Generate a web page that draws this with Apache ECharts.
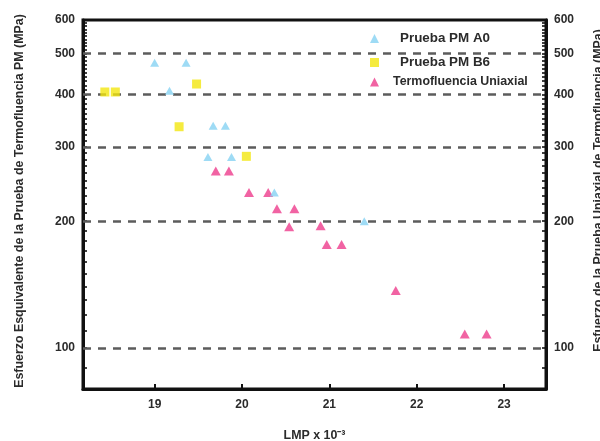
<!DOCTYPE html>
<html>
<head>
<meta charset="utf-8">
<script src="https://cdn.jsdelivr.net/npm/echarts@6/dist/echarts.min.js"></script>
<style>
  html, body { margin: 0; padding: 0; background: #ffffff; }
  #chart { width: 600px; height: 441px; }
</style>
</head>
<body>
<div id="chart"></div>
<script>
// LMP (x 10^-3) vs stress (MPa) for the three creep test series
const pmA0 = [
  [19.00, 475], [19.36, 475], [19.17, 408], [19.67, 337], [19.81, 337],
  [19.61, 284], [19.88, 284], [20.37, 234], [21.40, 200]
];
const pmB6 = [
  [18.43, 405], [18.55, 405], [19.48, 423], [19.28, 335], [20.05, 285]
];
const uniaxial = [
  [19.70, 263], [19.85, 263], [20.08, 234], [20.30, 234], [20.40, 214],
  [20.60, 214], [20.54, 194], [20.90, 195], [20.97, 176], [21.14, 176],
  [21.76, 137], [22.55, 108], [22.80, 108]
];

const seriesNames = ['Prueba PM A0', 'Prueba PM B6', 'Termofluencia Uniaxial'];
const xTicks = [19, 20, 21, 22, 23];
const yLabels = [100, 200, 300, 400, 500, 600];
const gridValues = [100, 200, 300, 400, 500];

// minor ticks on the stress axes: every 10 MPa across the axis range
const yMinorTicks = [];
for (let v = 80; v <= 600; v += 10) yMinorTicks.push(v);

const FONT = '"Liberation Sans", Arial, sans-serif';
const INK = '#2b2b2b';

const chart = echarts.init(document.getElementById('chart'), null, { renderer: 'canvas' });

function stressAxis(position, name, nameGap, namePad) {
  return {
    type: 'log',
    logBase: 10,
    position: position,
    min: 80,
    max: 600,
    name: name,
    nameLocation: 'middle',
    nameRotate: 90,
    nameGap: nameGap,
    nameTextStyle: {
      fontFamily: FONT, fontSize: 12.4, fontWeight: 'bold', color: INK,
      padding: namePad
    },
    axisLine: { show: true, lineStyle: { color: '#111', width: 3 } },
    axisTick: {
      show: true, inside: true, length: 4,
      customValues: yMinorTicks,
      lineStyle: { color: '#111', width: 1.6 }
    },
    axisLabel: {
      show: true, margin: 8,
      customValues: yLabels,
      fontFamily: FONT, fontSize: 12, fontWeight: 'bold', color: INK
    },
    splitLine: { show: false },
    minorTick: { show: false },
    minorSplitLine: { show: false }
  };
}

function legendFor(name, left, top, pad, size) {
  return {
    data: [name],
    left: left,
    top: top,
    orient: 'vertical',
    padding: 0,
    itemWidth: 9,
    itemHeight: 9,
    selectedMode: false,
    textStyle: {
      fontFamily: FONT, fontSize: size, fontWeight: 'bold', color: INK,
      padding: [0, 0, 0, pad]
    }
  };
}

const option = {
  animation: false,
  backgroundColor: '#ffffff',
  grid: {
    left: 83, right: 54, top: 20, bottom: 52,
    show: true, borderColor: '#111', borderWidth: 3,
    containLabel: false,
    outerBoundsMode: 'none'
  },
  legend: [
    legendFor(seriesNames[0], 370, 32, 16, 13.4),
    legendFor(seriesNames[1], 370, 56, 16, 13.4),
    legendFor(seriesNames[2], 370, 76, 9, 12.4)
  ],
  xAxis: {
    type: 'value',
    min: 18.18,
    max: 23.48,
    name: 'LMP x 10\u207B\u00B3',
    nameLocation: 'middle',
    nameGap: 41,
    nameTextStyle: { fontFamily: FONT, fontSize: 12.4, fontWeight: 'bold', color: INK },
    axisLine: { show: true, lineStyle: { color: '#111', width: 3 } },
    axisTick: {
      show: true, inside: true, length: 5,
      customValues: xTicks,
      lineStyle: { color: '#111', width: 2 }
    },
    axisLabel: {
      margin: 10,
      customValues: xTicks,
      fontFamily: FONT, fontSize: 12, fontWeight: 'bold', color: INK
    },
    splitLine: { show: false }
  },
  yAxis: [
    stressAxis('left', 'Esfuerzo Esquivalente de la Prueba de Termofluencia PM (MPa)', 57, [0, 0, 0, 7]),
    stressAxis('right', 'Esfuerzo de la Prueba Uniaxial de Termofluencia (MPa)', 47, [0, 0, 0, 28])
  ],
  series: [
    {
      name: seriesNames[2],
      type: 'scatter',
      yAxisIndex: 0,
      symbol: 'triangle',
      symbolSize: [10, 9],
      itemStyle: { color: '#ee3c8c' },
      data: uniaxial,
      z: 3,
      markLine: {
        silent: true,
        symbol: ['none', 'none'],
        label: { show: false },
        lineStyle: { color: '#5c5c5c', width: 2.5, type: [8, 7] },
        data: gridValues.map(v => ({ yAxis: v })),
        z: 1
      }
    },
    {
      name: seriesNames[0],
      type: 'scatter',
      yAxisIndex: 0,
      symbol: 'triangle',
      symbolSize: [9, 8],
      itemStyle: { color: '#86d2f2' },
      data: pmA0,
      z: 4
    },
    {
      name: seriesNames[1],
      type: 'scatter',
      yAxisIndex: 0,
      symbol: 'rect',
      symbolSize: 9,
      itemStyle: { color: '#f3e60f' },
      data: pmB6,
      z: 4
    }
  ]
};

chart.setOption(option);
</script>
</body>
</html>
